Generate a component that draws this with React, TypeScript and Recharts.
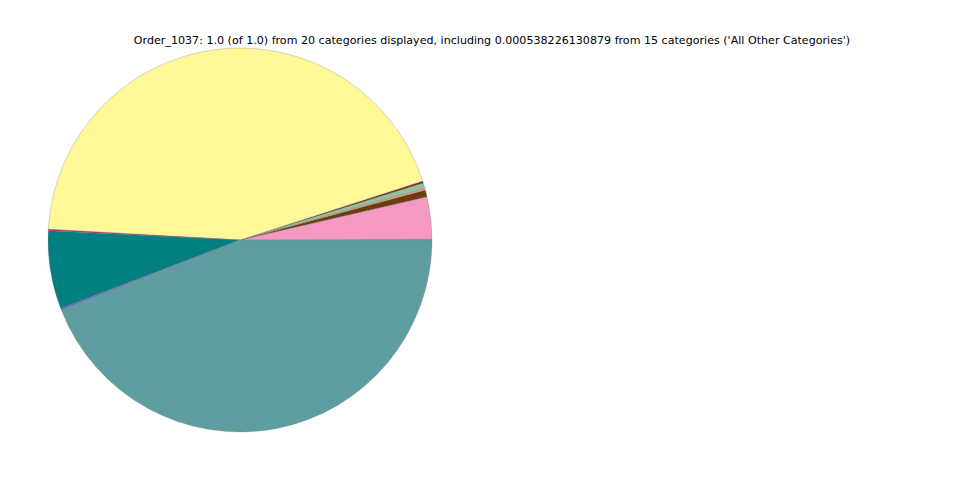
import React from "react";
import { PieChart, Pie, Cell } from "recharts";

const categories = [
  "All Other Categories",
  "Cat A",
  "Cat B",
  "Cat C",
  "Cat D",
  "Cat E",
  "Cat F",
  "Cat G",
  "Cat H",
  "Cat I",
  "Cat J",
];
const values = [
  0.000538, 0.0356, 0.0058, 0.0017, 0.0044, 0.0017, 0.4412, 0.0011, 0.0658, 0.0014, 0.4403,
];
const colors = [
  "#8c8c9c",
  "#F49AC2",
  "#6B3E0F",
  "#E9967A",
  "#8FC49F",
  "#7B2D26",
  "#FFF899",
  "#C71585",
  "#008080",
  "#6A5ACD",
  "#5F9EA0",
];
const title =
  "Order_1037: 1.0 (of 1.0) from 20 categories displayed, including 0.000538226130879 from 15 categories ('All Other Categories')";

const data = categories.map((name, i) => ({ name, value: values[i] }));

export default function App() {
  return (
    <div style={{ position: "absolute", left: 0, top: 0, width: 960, height: 480, background: "#fff" }}>
      <PieChart width={960} height={480} margin={{ top: 0, right: 0, bottom: 0, left: 0 }}>
        <text
          x={492}
          y={44}
          textAnchor="middle"
          fontFamily="DejaVu Sans"
          fontSize={11.1}
          fill="#000"
        >
          {title}
        </text>
        <Pie
          data={data}
          dataKey="value"
          nameKey="name"
          cx={240}
          cy={240}
          outerRadius={192}
          innerRadius={0}
          startAngle={0}
          endAngle={360}
          stroke="#777"
          strokeWidth={0.3}
          isAnimationActive={false}
          label={false}
          labelLine={false}
        >
          {data.map((d, i) => (
            <Cell key={d.name} fill={colors[i]} />
          ))}
        </Pie>
      </PieChart>
    </div>
  );
}
